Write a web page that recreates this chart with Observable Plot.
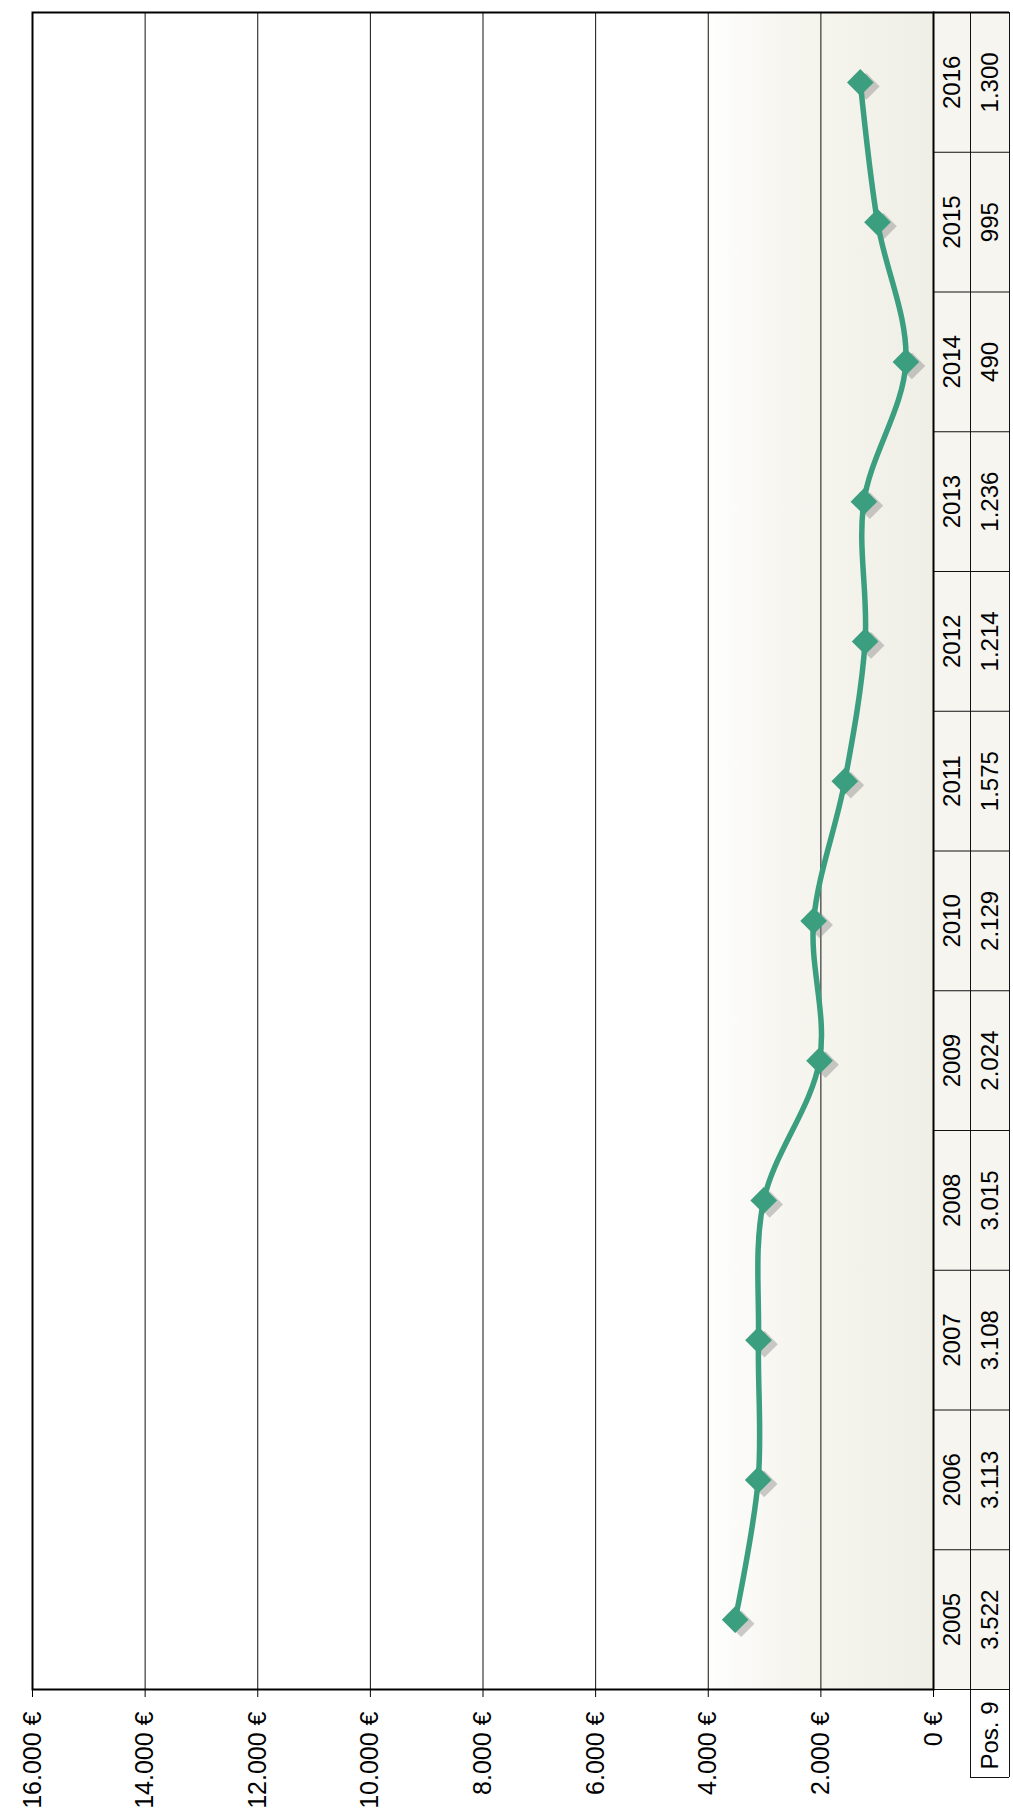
<!DOCTYPE html>
<html>
<head>
<meta charset="utf-8">
<script src="https://cdn.jsdelivr.net/npm/d3@7"></script>
<script src="https://cdn.jsdelivr.net/npm/@observablehq/plot@0.6"></script>
<style>
  html, body { margin: 0; padding: 0; background: #ffffff; }
  #chart { width: 1013px; height: 1813px; }
</style>
</head>
<body>
<div id="chart"></div>
<script>
// ---- data ----
const years = [2005, 2006, 2007, 2008, 2009, 2010, 2011, 2012, 2013, 2014, 2015, 2016];
const values = [3522, 3113, 3108, 3015, 2024, 2129, 1575, 1214, 1236, 490, 995, 1300];
const tickValues = [0, 2000, 4000, 6000, 8000, 10000, 12000, 14000, 16000];
const seriesName = "Pos. 9";

const data = years.map((year, i) => ({year, value: values[i]}));
const rowEdges = [years[0] - 0.5, ...years.map(y => y + 0.5)];
const gridValues = tickValues.slice(1, -1);

const de = d3.formatLocale({decimal: ",", thousands: ".", grouping: [3], currency: ["", " €"]});
const fmtNum = de.format(",");
const fmtTick = d => fmtNum(d) + " €";

// ---- layout ----
const W = 1013, H = 1813;
const ML = 32, MR = 80, MT = 12, MB = 124;
const colYear = 37, colVal = 39, boxH = 88;
const frameW = W - ML - MR;
const green = "#3b9e7f";

const defsMark = () => {
  const g = d3.create("svg:g");
  const defs = g.append("defs");
  const lg = defs.append("linearGradient").attr("id", "plotBg")
    .attr("x1", "0").attr("x2", "1").attr("y1", "0").attr("y2", "0");
  lg.append("stop").attr("offset", "0").attr("stop-color", "#ffffff");
  lg.append("stop").attr("offset", "0.74").attr("stop-color", "#ffffff");
  lg.append("stop").attr("offset", "0.84").attr("stop-color", "#f6f5ef");
  lg.append("stop").attr("offset", "1").attr("stop-color", "#f0efe6");
  const f = defs.append("filter").attr("id", "blurShadow")
    .attr("x", "-30%").attr("y", "-30%").attr("width", "160%").attr("height", "160%");
  f.append("feGaussianBlur").attr("stdDeviation", 3);
  return g.node();
};

const txt = {rotate: -90, textAnchor: "middle", lineAnchor: "middle", fontSize: 24, fill: "#000"};

const chart = Plot.plot({
  width: W,
  height: H,
  marginLeft: ML,
  marginRight: MR,
  marginTop: MT,
  marginBottom: MB,
  style: {
    fontFamily: "'Liberation Sans', Arial, sans-serif",
    fontSize: "25px",
    color: "#000",
    background: "transparent"
  },
  x: {
    domain: [0, 16000],
    reverse: true,
    ticks: tickValues,
    tickFormat: fmtTick,
    tickRotate: -90,
    tickSize: 8,
    tickPadding: 14,
    label: null
  },
  y: {
    domain: [years[0] - 0.5, years[years.length - 1] + 0.5],
    axis: null
  },
  marks: [
    defsMark,
    Plot.frame({fill: "url(#plotBg)", stroke: null}),
    Plot.frame({fill: "#f6f5ef", stroke: null, insetLeft: frameW, insetRight: -(colYear + colVal)}),
    Plot.ruleX(gridValues, {stroke: "#111", strokeWidth: 1}),
    Plot.ruleY(rowEdges, {y: d => d, x1: 0, x2: 0, insetRight: -(colYear + colVal), stroke: "#111", strokeWidth: 1}),
    Plot.ruleX([0], {dx: colYear, insetBottom: -boxH, stroke: "#111", strokeWidth: 1}),
    Plot.ruleX([0], {dx: colYear + colVal, insetBottom: -boxH, stroke: "#111", strokeWidth: 1}),
    Plot.ruleY([years[0] - 0.5], {x1: 0, x2: 0, insetLeft: colYear, insetRight: -(colYear + colVal), dy: boxH, stroke: "#111", strokeWidth: 1}),
    // shadow
    Plot.line(data, {x: "value", y: "year", curve: "catmull-rom", stroke: "#808080", strokeOpacity: 0.4, strokeWidth: 6.5, dx: 6, dy: 4, ariaLabel: "line-shadow"}),
    Plot.dot(data, {x: "value", y: "year", symbol: "diamond2", r: 12, fill: "#808080", fillOpacity: 0.4, stroke: null, dx: 6, dy: 4, ariaLabel: "dot-shadow"}),
    // series
    Plot.line(data, {x: "value", y: "year", curve: "catmull-rom", stroke: green, strokeWidth: 5.5}),
    Plot.dot(data, {x: "value", y: "year", symbol: "diamond2", r: 12, fill: green, stroke: null}),
    // data table
    Plot.text(data, {y: "year", text: d => String(d.year), frameAnchor: "right", dx: colYear / 2, ...txt}),
    Plot.text(data, {y: "year", text: d => fmtNum(d.value), frameAnchor: "right", dx: colYear + colVal / 2, ...txt}),
    Plot.text([seriesName], {frameAnchor: "bottom-right", dx: colYear + colVal / 2, dy: boxH / 2 + 2, ...txt}),
    // frame
    Plot.frame({stroke: "#000", strokeWidth: 2}),
    Plot.ruleY([years[years.length - 1] + 0.5], {x1: 0, x2: 0, insetRight: -(colYear + colVal), stroke: "#000", strokeWidth: 2})
  ]
});

d3.select(chart).selectAll('g[aria-label="line-shadow"], g[aria-label="dot-shadow"]').attr("filter", "url(#blurShadow)");
document.getElementById("chart").appendChild(chart);
</script>
</body>
</html>
